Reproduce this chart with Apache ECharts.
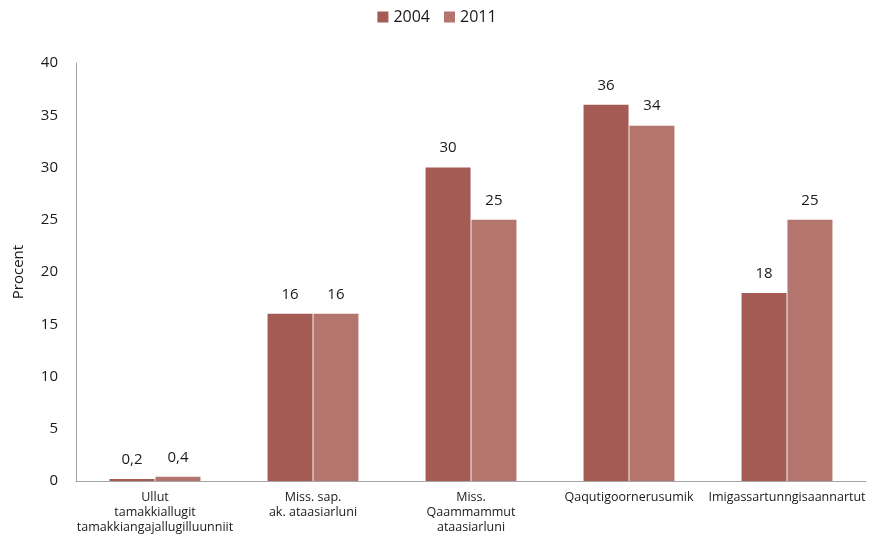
<!DOCTYPE html>
<html>
<head>
<meta charset="utf-8">
<script src="https://cdn.jsdelivr.net/npm/echarts@6/dist/echarts.min.js"></script>
<style>
  html, body { margin: 0; padding: 0; background: #fff; }
  #chart { width: 874px; height: 540px; }
</style>
</head>
<body>
<div id="chart"></div>
<script>
var categories = [
    'Ullut\ntamakkiallugit\ntamakkiangajallugilluunniit',
    'Miss. sap.\nak. ataasiarluni',
    'Miss.\nQaammammut\nataasiarluni',
    'Qaqutigoornerusumik',
    'Imigassartunngisaannartut'
];
var values2004 = [0.2, 16, 30, 36, 18];
var values2011 = [0.4, 16, 25, 34, 25];
var yTicks = [0, 5, 10, 15, 20, 25, 30, 35, 40];

var chart = echarts.init(document.getElementById('chart'));

// tal med komma som decimaltegn
function fmt(p) {
    return String(p.value).replace('.', ',');
}

var labelStyle = {
    show: true,
    position: 'top',
    distance: 12,
    formatter: fmt,
    color: '#1a1a1a',
    fontSize: 15,
    fontFamily: 'Open Sans'
};

var option = {
    backgroundColor: '#fff',
    textStyle: { fontFamily: 'Open Sans' },
    legend: {
        top: 4,
        left: 'center',
        itemWidth: 11,
        itemHeight: 11,
        itemGap: 14,
        icon: 'rect',
        textStyle: { fontSize: 16, color: '#1a1a1a' },
        data: ['2004', '2011']
    },
    grid: {
        left: 76,
        right: 8,
        top: 63,
        bottom: 59,
        containLabel: false
    },
    xAxis: {
        type: 'category',
        data: categories,
        axisLine: { lineStyle: { color: '#a6a6a6', width: 1 } },
        axisTick: { show: false },
        axisLabel: {
            interval: 0,
            color: '#1a1a1a',
            fontSize: 12.5,
            lineHeight: 15,
            margin: 9
        }
    },
    yAxis: {
        type: 'value',
        min: yTicks[0],
        max: yTicks[yTicks.length - 1],
        interval: 5,
        name: 'Procent',
        nameLocation: 'middle',
        nameGap: 50,
        nameRotate: 90,
        nameTextStyle: { fontSize: 15, color: '#1a1a1a' },
        axisLine: { show: true, lineStyle: { color: '#a6a6a6', width: 1 } },
        axisTick: { show: false },
        splitLine: { show: false },
        axisLabel: {
            color: '#1a1a1a',
            fontSize: 15,
            margin: 18
        }
    },
    series: [
        {
            name: '2004',
            type: 'bar',
            data: values2004,
            barWidth: 45,
            barGap: '2%',
            itemStyle: { color: '#a35b54' },
            label: labelStyle
        },
        {
            name: '2011',
            type: 'bar',
            data: values2011,
            barWidth: 45,
            itemStyle: { color: '#b3756e' },
            label: labelStyle
        }
    ]
};

chart.setOption(option);
</script>
</body>
</html>
